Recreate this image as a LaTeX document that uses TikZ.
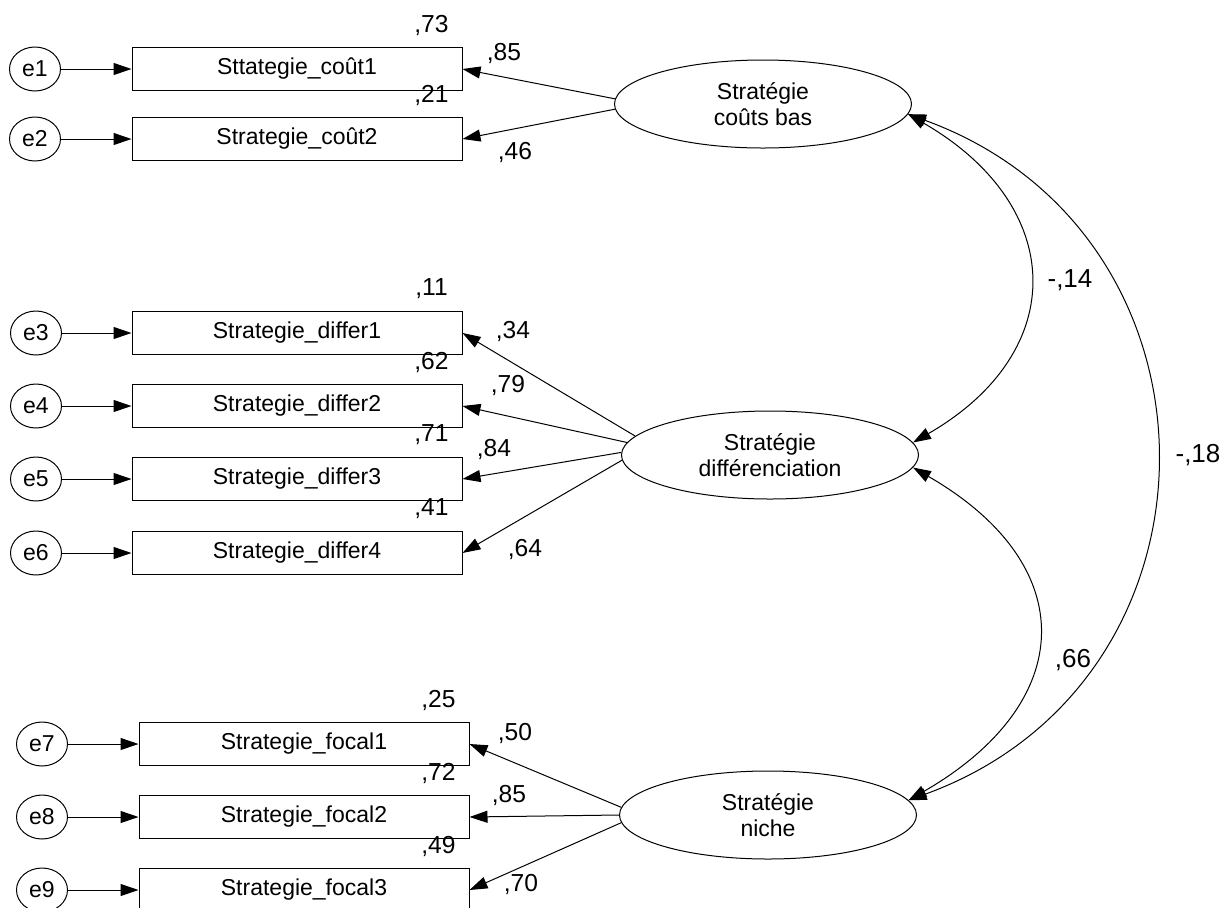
\documentclass[tikz,border=0pt]{standalone}
\usepackage{fontspec}
\setmainfont{Liberation Sans}
\usetikzlibrary{arrows.meta, calc, shapes.geometric}

\begin{document}
\begin{tikzpicture}[
    x=0.5pt, y=0.5pt,
    every node/.style={font=\fontsize{11.5}{13}\selectfont},
    obs/.style={draw, line width=0.5pt, rectangle, minimum width=165pt,
        minimum height=21.5pt, inner sep=0pt},
    err/.style={draw, line width=0.5pt, ellipse, minimum width=25.5pt,
        minimum height=22pt, inner sep=0pt},
    lat/.style={draw, line width=0.5pt, ellipse, minimum width=148.5pt,
        minimum height=44pt, inner sep=0pt, align=center},
    load/.style={-{Triangle[length=9pt, width=6pt]}, line width=0.5pt},
    cov/.style={{Triangle[length=9pt, width=6pt]}-{Triangle[length=9pt, width=6pt]},
        line width=0.5pt},
    num/.style={font=\fontsize{12.3}{14}\selectfont},
    corr/.style={font=\fontsize{13}{15}\selectfont},
]

\useasboundingbox (0,0) rectangle (1223,-907);

% ---------------------------------------------------------------- latent factors
\node[lat] (cb) at (763,-104) {Stratégie\\coûts bas};
\node[lat] (df) at (770,-455) {Stratégie\\différenciation};
\node[lat] (nc) at (768,-815) {Stratégie\\niche};

% ---------------------------------------------------------------- indicators + errors
\foreach \n/\ex/\bx/\y/\txt in {
    1/35/297/69/Sttategie\_coût1,
    2/35/297/139/Strategie\_coût2,
    3/36/297/333/Strategie\_differ1,
    4/36/297/406/Strategie\_differ2,
    5/36/297/479/Strategie\_differ3,
    6/36/297/553/Strategie\_differ4,
    7/42/304/744/Strategie\_focal1,
    8/42/304/817/Strategie\_focal2,
    9/42/304/890/Strategie\_focal3} {
    \node[err] (e\n) at (\ex,-\y) {e\n};
    \node[obs] (b\n) at (\bx,-\y) {\txt};
    \draw[load] (e\n) -- (b\n);
}

% squared multiple correlations, just above each box
\foreach \n/\r in {1/{,73}, 2/{,21}, 3/{,11}, 4/{,62}, 5/{,71}, 6/{,41},
                   7/{,25}, 8/{,72}, 9/{,49}} {
    \node[num] (r\n) at ($(b\n.north east)+(-31,22)$) {\r};
}

% ---------------------------------------------------------------- loadings
\foreach \a/\n in {178/1, 182/2}
    \draw[load] (cb.\a) -- (b\n.east);
\foreach \a/\n in {172/3, 175/4, 179/5, 182/6}
    \draw[load] (df.\a) -- (b\n.east);
\foreach \a/\n in {177/7, 180/8, 183/9}
    \draw[load] (nc.\a) -- (b\n.east);

\foreach \n/\v/\x/\y in {1/{,85}/504/53, 2/{,46}/515/152,
                         3/{,34}/513/331, 4/{,79}/508/385, 5/{,84}/494/449,
                         6/{,64}/525/549,
                         7/{,50}/515/733, 8/{,85}/509/795, 9/{,70}/521/884} {
    \node[num] (l\n) at (\x,-\y) {\v};
}

% ---------------------------------------------------------------- covariances
\draw[cov] (cb.-4) to[out=-30, in=30, looseness=1.42] (df.5);
\draw[cov] (df.-5) to[out=-30, in=30, looseness=1.5] (nc.6);
\draw[cov] (cb.-4) to[out=-20, in=20, looseness=1.31] (nc.6);

\node[corr] (c1) at (1070,-280) {-,14};
\node[corr] (c2) at (1073,-660) {,66};
\node[corr] (c3) at (1198,-455) {-,18};

\end{tikzpicture}
\end{document}
